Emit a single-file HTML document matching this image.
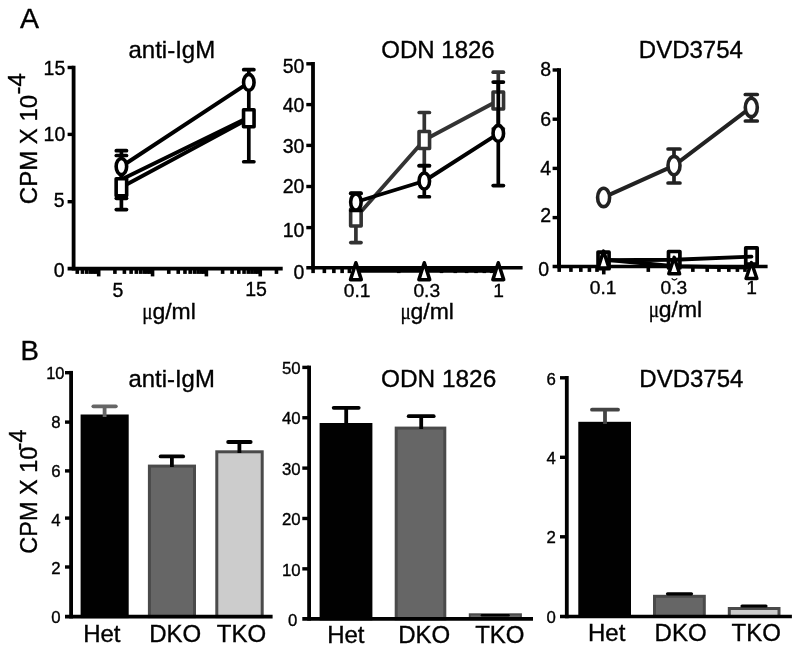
<!DOCTYPE html>
<html><head><meta charset="utf-8"><title>Figure</title>
<style>
html,body{margin:0;padding:0;background:#fff;}
body{width:800px;height:652px;overflow:hidden;font-family:"Liberation Sans",sans-serif;}
svg{display:block;will-change:transform;opacity:0.999;}
svg text{font-family:"Liberation Sans",sans-serif;fill:#000;stroke:#000;stroke-width:0.35px;}
</style></head><body>
<svg width="800" height="652" viewBox="0 0 800 652">
<rect width="800" height="652" fill="#fff"/>
<text x="19.90" y="28.10" font-size="28.5" text-anchor="start" >A</text>
<text x="20.40" y="359.50" font-size="27.6" text-anchor="start" >B</text>
<line x1="73.60" y1="65.70" x2="73.60" y2="270.40" stroke="#000" stroke-width="3.8" stroke-linecap="butt"/>
<line x1="67.60" y1="268.60" x2="282.70" y2="268.60" stroke="#000" stroke-width="3.6" stroke-linecap="butt"/>
<line x1="67.60" y1="67.50" x2="73.60" y2="67.50" stroke="#000" stroke-width="3.4" stroke-linecap="butt"/>
<line x1="67.60" y1="134.40" x2="73.60" y2="134.40" stroke="#000" stroke-width="3.4" stroke-linecap="butt"/>
<line x1="67.60" y1="201.70" x2="73.60" y2="201.70" stroke="#000" stroke-width="3.4" stroke-linecap="butt"/>
<text x="65.30" y="74.50" font-size="19.5" text-anchor="end" >15</text>
<text x="65.30" y="141.20" font-size="19.5" text-anchor="end" >10</text>
<text x="64.60" y="207.10" font-size="19.5" text-anchor="end" >5</text>
<text x="64.60" y="276.70" font-size="19.5" text-anchor="end" >0</text>
<line x1="77.27" y1="268.60" x2="77.27" y2="273.90" stroke="#000" stroke-width="3.6" stroke-linecap="butt"/>
<line x1="82.49" y1="268.60" x2="82.49" y2="273.90" stroke="#000" stroke-width="3.6" stroke-linecap="butt"/>
<line x1="86.75" y1="268.60" x2="86.75" y2="273.90" stroke="#000" stroke-width="3.6" stroke-linecap="butt"/>
<line x1="90.36" y1="268.60" x2="90.36" y2="273.90" stroke="#000" stroke-width="3.6" stroke-linecap="butt"/>
<line x1="93.48" y1="268.60" x2="93.48" y2="273.90" stroke="#000" stroke-width="3.6" stroke-linecap="butt"/>
<line x1="96.24" y1="268.60" x2="96.24" y2="273.90" stroke="#000" stroke-width="3.6" stroke-linecap="butt"/>
<line x1="98.70" y1="268.60" x2="98.70" y2="276.40" stroke="#000" stroke-width="3.6" stroke-linecap="butt"/>
<line x1="114.91" y1="268.60" x2="114.91" y2="273.90" stroke="#000" stroke-width="3.6" stroke-linecap="butt"/>
<line x1="124.39" y1="268.60" x2="124.39" y2="273.90" stroke="#000" stroke-width="3.6" stroke-linecap="butt"/>
<line x1="131.12" y1="268.60" x2="131.12" y2="273.90" stroke="#000" stroke-width="3.6" stroke-linecap="butt"/>
<line x1="136.34" y1="268.60" x2="136.34" y2="273.90" stroke="#000" stroke-width="3.6" stroke-linecap="butt"/>
<line x1="140.60" y1="268.60" x2="140.60" y2="273.90" stroke="#000" stroke-width="3.6" stroke-linecap="butt"/>
<line x1="144.21" y1="268.60" x2="144.21" y2="273.90" stroke="#000" stroke-width="3.6" stroke-linecap="butt"/>
<line x1="147.33" y1="268.60" x2="147.33" y2="273.90" stroke="#000" stroke-width="3.6" stroke-linecap="butt"/>
<line x1="150.09" y1="268.60" x2="150.09" y2="273.90" stroke="#000" stroke-width="3.6" stroke-linecap="butt"/>
<line x1="152.55" y1="268.60" x2="152.55" y2="276.40" stroke="#000" stroke-width="3.6" stroke-linecap="butt"/>
<line x1="168.76" y1="268.60" x2="168.76" y2="273.90" stroke="#000" stroke-width="3.6" stroke-linecap="butt"/>
<line x1="178.24" y1="268.60" x2="178.24" y2="273.90" stroke="#000" stroke-width="3.6" stroke-linecap="butt"/>
<line x1="184.97" y1="268.60" x2="184.97" y2="273.90" stroke="#000" stroke-width="3.6" stroke-linecap="butt"/>
<line x1="190.19" y1="268.60" x2="190.19" y2="273.90" stroke="#000" stroke-width="3.6" stroke-linecap="butt"/>
<line x1="194.45" y1="268.60" x2="194.45" y2="273.90" stroke="#000" stroke-width="3.6" stroke-linecap="butt"/>
<line x1="198.06" y1="268.60" x2="198.06" y2="273.90" stroke="#000" stroke-width="3.6" stroke-linecap="butt"/>
<line x1="201.18" y1="268.60" x2="201.18" y2="273.90" stroke="#000" stroke-width="3.6" stroke-linecap="butt"/>
<line x1="203.94" y1="268.60" x2="203.94" y2="273.90" stroke="#000" stroke-width="3.6" stroke-linecap="butt"/>
<line x1="206.40" y1="268.60" x2="206.40" y2="276.40" stroke="#000" stroke-width="3.6" stroke-linecap="butt"/>
<line x1="222.61" y1="268.60" x2="222.61" y2="273.90" stroke="#000" stroke-width="3.6" stroke-linecap="butt"/>
<line x1="232.09" y1="268.60" x2="232.09" y2="273.90" stroke="#000" stroke-width="3.6" stroke-linecap="butt"/>
<line x1="238.82" y1="268.60" x2="238.82" y2="273.90" stroke="#000" stroke-width="3.6" stroke-linecap="butt"/>
<line x1="244.04" y1="268.60" x2="244.04" y2="273.90" stroke="#000" stroke-width="3.6" stroke-linecap="butt"/>
<line x1="248.30" y1="268.60" x2="248.30" y2="273.90" stroke="#000" stroke-width="3.6" stroke-linecap="butt"/>
<line x1="251.91" y1="268.60" x2="251.91" y2="273.90" stroke="#000" stroke-width="3.6" stroke-linecap="butt"/>
<line x1="255.03" y1="268.60" x2="255.03" y2="273.90" stroke="#000" stroke-width="3.6" stroke-linecap="butt"/>
<line x1="257.79" y1="268.60" x2="257.79" y2="273.90" stroke="#000" stroke-width="3.6" stroke-linecap="butt"/>
<line x1="260.25" y1="268.60" x2="260.25" y2="276.40" stroke="#000" stroke-width="3.6" stroke-linecap="butt"/>
<line x1="276.46" y1="268.60" x2="276.46" y2="273.90" stroke="#000" stroke-width="3.6" stroke-linecap="butt"/>
<text x="118.00" y="297.20" font-size="19.5" text-anchor="middle" >5</text>
<text x="256.00" y="295.70" font-size="19.5" text-anchor="middle" >15</text>
<text x="128.50" y="57.50" font-size="24" text-anchor="start" >anti-IgM</text>
<g transform="translate(36.6,204.2) rotate(-90)">
<text x="0.00" y="0.00" font-size="24" text-anchor="start" >CPM X 10</text>
<text x="109.70" y="-11.70" font-size="24" text-anchor="start" >-4</text>
</g>
<g transform="translate(195.80,319.20)"><text transform="scale(1.035,1)" font-size="22.2" text-anchor="end">g/ml</text><text transform="translate(-43.2,0) scale(0.8,1)" font-family="Liberation Serif, serif" style="font-family:'Liberation Serif',serif" font-size="24" text-anchor="end">μ</text></g>
<line x1="121.40" y1="155.50" x2="121.40" y2="209.60" stroke="#000" stroke-width="3.7" stroke-linecap="butt"/>
<line x1="116.30" y1="155.50" x2="126.50" y2="155.50" stroke="#000" stroke-width="3.7" stroke-linecap="round"/>
<line x1="116.30" y1="209.60" x2="126.50" y2="209.60" stroke="#000" stroke-width="3.7" stroke-linecap="round"/>
<line x1="248.80" y1="69.70" x2="248.80" y2="161.75" stroke="#000" stroke-width="3.7" stroke-linecap="butt"/>
<line x1="243.70" y1="69.70" x2="253.90" y2="69.70" stroke="#000" stroke-width="3.7" stroke-linecap="round"/>
<line x1="243.70" y1="161.75" x2="253.90" y2="161.75" stroke="#000" stroke-width="3.7" stroke-linecap="round"/>
<line x1="121.40" y1="150.70" x2="121.40" y2="198.30" stroke="#000" stroke-width="3.7" stroke-linecap="butt"/>
<line x1="116.30" y1="150.70" x2="126.50" y2="150.70" stroke="#000" stroke-width="3.7" stroke-linecap="round"/>
<line x1="116.30" y1="198.30" x2="126.50" y2="198.30" stroke="#000" stroke-width="3.7" stroke-linecap="round"/>
<polyline points="121.40,187.20 248.80,118.60" fill="none" stroke="#000" stroke-width="3.9" stroke-linejoin="round" stroke-linecap="round"/>
<polyline points="121.40,179.60 248.80,117.20" fill="none" stroke="#000" stroke-width="3.9" stroke-linejoin="round" stroke-linecap="round"/>
<polyline points="121.40,166.50 248.80,82.60" fill="none" stroke="#000" stroke-width="3.9" stroke-linejoin="round" stroke-linecap="round"/>
<rect x="116.15" y="178.70" width="10.5" height="17.0" fill="#fff" stroke="#000" stroke-width="3.6" stroke-linejoin="round"/>
<rect x="243.55" y="109.70" width="10.5" height="17.0" fill="#fff" stroke="#000" stroke-width="3.6" stroke-linejoin="round"/>
<ellipse cx="121.40" cy="166.50" rx="5.25" ry="8.0" fill="#fff" stroke="#000" stroke-width="3.6"/>
<ellipse cx="248.80" cy="82.40" rx="5.25" ry="8.0" fill="#fff" stroke="#000" stroke-width="3.6"/>
<line x1="313.00" y1="62.00" x2="313.00" y2="269.50" stroke="#000" stroke-width="3.8" stroke-linecap="butt"/>
<line x1="306.30" y1="267.80" x2="522.60" y2="267.80" stroke="#000" stroke-width="3.5" stroke-linecap="butt"/>
<line x1="306.30" y1="63.80" x2="313.00" y2="63.80" stroke="#000" stroke-width="3.4" stroke-linecap="butt"/>
<line x1="306.30" y1="104.60" x2="313.00" y2="104.60" stroke="#000" stroke-width="3.4" stroke-linecap="butt"/>
<line x1="306.30" y1="145.40" x2="313.00" y2="145.40" stroke="#000" stroke-width="3.4" stroke-linecap="butt"/>
<line x1="306.30" y1="186.50" x2="313.00" y2="186.50" stroke="#000" stroke-width="3.4" stroke-linecap="butt"/>
<line x1="306.30" y1="227.60" x2="313.00" y2="227.60" stroke="#000" stroke-width="3.4" stroke-linecap="butt"/>
<text x="304.40" y="72.90" font-size="19.5" text-anchor="end" >50</text>
<text x="304.40" y="111.90" font-size="19.5" text-anchor="end" >40</text>
<text x="304.40" y="152.70" font-size="19.5" text-anchor="end" >30</text>
<text x="304.40" y="192.60" font-size="19.5" text-anchor="end" >20</text>
<text x="304.40" y="237.00" font-size="19.5" text-anchor="end" >10</text>
<text x="304.40" y="278.70" font-size="19.5" text-anchor="end" >0</text>
<line x1="313.09" y1="267.80" x2="313.09" y2="273.10" stroke="#000" stroke-width="3.6" stroke-linecap="butt"/>
<line x1="324.35" y1="267.80" x2="324.35" y2="273.10" stroke="#000" stroke-width="3.6" stroke-linecap="butt"/>
<line x1="333.87" y1="267.80" x2="333.87" y2="273.10" stroke="#000" stroke-width="3.6" stroke-linecap="butt"/>
<line x1="342.12" y1="267.80" x2="342.12" y2="273.10" stroke="#000" stroke-width="3.6" stroke-linecap="butt"/>
<line x1="349.39" y1="267.80" x2="349.39" y2="273.10" stroke="#000" stroke-width="3.6" stroke-linecap="butt"/>
<line x1="355.90" y1="267.80" x2="355.90" y2="275.60" stroke="#000" stroke-width="3.6" stroke-linecap="butt"/>
<line x1="398.71" y1="267.80" x2="398.71" y2="273.10" stroke="#000" stroke-width="3.6" stroke-linecap="butt"/>
<line x1="423.75" y1="267.80" x2="423.75" y2="273.10" stroke="#000" stroke-width="3.6" stroke-linecap="butt"/>
<line x1="441.51" y1="267.80" x2="441.51" y2="273.10" stroke="#000" stroke-width="3.6" stroke-linecap="butt"/>
<line x1="455.29" y1="267.80" x2="455.29" y2="273.10" stroke="#000" stroke-width="3.6" stroke-linecap="butt"/>
<line x1="466.55" y1="267.80" x2="466.55" y2="273.10" stroke="#000" stroke-width="3.6" stroke-linecap="butt"/>
<line x1="476.07" y1="267.80" x2="476.07" y2="273.10" stroke="#000" stroke-width="3.6" stroke-linecap="butt"/>
<line x1="484.32" y1="267.80" x2="484.32" y2="273.10" stroke="#000" stroke-width="3.6" stroke-linecap="butt"/>
<line x1="491.59" y1="267.80" x2="491.59" y2="273.10" stroke="#000" stroke-width="3.6" stroke-linecap="butt"/>
<line x1="498.10" y1="267.80" x2="498.10" y2="275.60" stroke="#000" stroke-width="3.6" stroke-linecap="butt"/>
<text x="357.20" y="297.00" font-size="19.2" text-anchor="middle" >0.1</text>
<text x="426.80" y="297.00" font-size="19.2" text-anchor="middle" >0.3</text>
<text x="498.70" y="297.00" font-size="19.2" text-anchor="middle" >1</text>
<g transform="translate(453.90,318.80)"><text transform="scale(1.035,1)" font-size="22.2" text-anchor="end">g/ml</text><text transform="translate(-43.2,0) scale(0.8,1)" font-family="Liberation Serif, serif" style="font-family:'Liberation Serif',serif" font-size="24" text-anchor="end">μ</text></g>
<text x="381.30" y="57.50" font-size="24" text-anchor="start" >ODN 1826</text>
<line x1="355.90" y1="193.50" x2="355.90" y2="242.60" stroke="#333" stroke-width="3.7" stroke-linecap="butt"/>
<line x1="350.80" y1="193.50" x2="361.00" y2="193.50" stroke="#333" stroke-width="3.7" stroke-linecap="round"/>
<line x1="350.80" y1="242.60" x2="361.00" y2="242.60" stroke="#333" stroke-width="3.7" stroke-linecap="round"/>
<line x1="424.30" y1="112.50" x2="424.30" y2="166.00" stroke="#333" stroke-width="3.7" stroke-linecap="butt"/>
<line x1="419.20" y1="112.50" x2="429.40" y2="112.50" stroke="#333" stroke-width="3.7" stroke-linecap="round"/>
<line x1="419.20" y1="166.00" x2="429.40" y2="166.00" stroke="#333" stroke-width="3.7" stroke-linecap="round"/>
<line x1="498.30" y1="72.20" x2="498.30" y2="128.80" stroke="#333" stroke-width="3.7" stroke-linecap="butt"/>
<line x1="493.20" y1="72.20" x2="503.40" y2="72.20" stroke="#333" stroke-width="3.7" stroke-linecap="round"/>
<line x1="493.20" y1="128.80" x2="503.40" y2="128.80" stroke="#333" stroke-width="3.7" stroke-linecap="round"/>
<polyline points="355.90,217.50 424.30,140.00 498.30,100.50" fill="none" stroke="#333" stroke-width="3.9" stroke-linejoin="round" stroke-linecap="round"/>
<rect x="350.65" y="209.00" width="10.5" height="17.0" fill="#fff" stroke="#333" stroke-width="3.6" stroke-linejoin="round"/>
<rect x="419.05" y="131.50" width="10.5" height="17.0" fill="#fff" stroke="#333" stroke-width="3.6" stroke-linejoin="round"/>
<rect x="493.05" y="92.00" width="10.5" height="17.0" fill="#fff" stroke="#333" stroke-width="3.6" stroke-linejoin="round"/>
<line x1="355.90" y1="193.20" x2="355.90" y2="210.50" stroke="#000" stroke-width="3.7" stroke-linecap="butt"/>
<line x1="350.80" y1="193.20" x2="361.00" y2="193.20" stroke="#000" stroke-width="3.7" stroke-linecap="round"/>
<line x1="350.80" y1="210.50" x2="361.00" y2="210.50" stroke="#000" stroke-width="3.7" stroke-linecap="round"/>
<line x1="424.30" y1="165.50" x2="424.30" y2="196.75" stroke="#000" stroke-width="3.7" stroke-linecap="butt"/>
<line x1="419.20" y1="165.50" x2="429.40" y2="165.50" stroke="#000" stroke-width="3.7" stroke-linecap="round"/>
<line x1="419.20" y1="196.75" x2="429.40" y2="196.75" stroke="#000" stroke-width="3.7" stroke-linecap="round"/>
<line x1="498.30" y1="82.10" x2="498.30" y2="185.60" stroke="#000" stroke-width="3.7" stroke-linecap="butt"/>
<line x1="493.20" y1="82.10" x2="503.40" y2="82.10" stroke="#000" stroke-width="3.7" stroke-linecap="round"/>
<line x1="493.20" y1="185.60" x2="503.40" y2="185.60" stroke="#000" stroke-width="3.7" stroke-linecap="round"/>
<polyline points="355.90,202.00 424.30,181.00 498.30,133.60" fill="none" stroke="#000" stroke-width="3.9" stroke-linejoin="round" stroke-linecap="round"/>
<ellipse cx="355.90" cy="202.00" rx="5.25" ry="8.0" fill="#fff" stroke="#000" stroke-width="3.6"/>
<ellipse cx="424.30" cy="181.00" rx="5.25" ry="8.0" fill="#fff" stroke="#000" stroke-width="3.6"/>
<ellipse cx="498.30" cy="133.40" rx="5.25" ry="8.0" fill="#fff" stroke="#000" stroke-width="3.6"/>
<polyline points="355.90,270.75 424.30,270.75 498.30,270.75" fill="none" stroke="#000" stroke-width="3.9" stroke-linejoin="round" stroke-linecap="round"/>
<path d="M355.90 262.75 L361.30 279.65 L350.50 279.65 Z" fill="#fff" stroke="#000" stroke-width="3.5" stroke-linejoin="round"/>
<path d="M424.30 262.75 L429.70 279.65 L418.90 279.65 Z" fill="#fff" stroke="#000" stroke-width="3.5" stroke-linejoin="round"/>
<path d="M498.30 262.75 L503.70 279.65 L492.90 279.65 Z" fill="#fff" stroke="#000" stroke-width="3.5" stroke-linejoin="round"/>
<line x1="559.00" y1="68.20" x2="559.00" y2="268.30" stroke="#000" stroke-width="4" stroke-linecap="butt"/>
<line x1="552.60" y1="266.60" x2="767.60" y2="266.60" stroke="#000" stroke-width="3.5" stroke-linecap="butt"/>
<line x1="552.60" y1="70.00" x2="559.00" y2="70.00" stroke="#000" stroke-width="3.4" stroke-linecap="butt"/>
<line x1="552.60" y1="119.20" x2="559.00" y2="119.20" stroke="#000" stroke-width="3.4" stroke-linecap="butt"/>
<line x1="552.60" y1="168.40" x2="559.00" y2="168.40" stroke="#000" stroke-width="3.4" stroke-linecap="butt"/>
<line x1="552.60" y1="217.60" x2="559.00" y2="217.60" stroke="#000" stroke-width="3.4" stroke-linecap="butt"/>
<text x="551.00" y="75.90" font-size="19.5" text-anchor="end" >8</text>
<text x="551.00" y="126.20" font-size="19.5" text-anchor="end" >6</text>
<text x="551.00" y="174.50" font-size="19.5" text-anchor="end" >4</text>
<text x="551.00" y="222.30" font-size="19.5" text-anchor="end" >2</text>
<text x="549.20" y="275.60" font-size="19.5" text-anchor="end" >0</text>
<line x1="559.20" y1="266.60" x2="559.20" y2="271.90" stroke="#000" stroke-width="3.6" stroke-linecap="butt"/>
<line x1="570.92" y1="266.60" x2="570.92" y2="271.90" stroke="#000" stroke-width="3.6" stroke-linecap="butt"/>
<line x1="580.82" y1="266.60" x2="580.82" y2="271.90" stroke="#000" stroke-width="3.6" stroke-linecap="butt"/>
<line x1="589.41" y1="266.60" x2="589.41" y2="271.90" stroke="#000" stroke-width="3.6" stroke-linecap="butt"/>
<line x1="596.98" y1="266.60" x2="596.98" y2="271.90" stroke="#000" stroke-width="3.6" stroke-linecap="butt"/>
<line x1="603.75" y1="266.60" x2="603.75" y2="274.40" stroke="#000" stroke-width="3.6" stroke-linecap="butt"/>
<line x1="648.30" y1="266.60" x2="648.30" y2="271.90" stroke="#000" stroke-width="3.6" stroke-linecap="butt"/>
<line x1="674.36" y1="266.60" x2="674.36" y2="271.90" stroke="#000" stroke-width="3.6" stroke-linecap="butt"/>
<line x1="692.85" y1="266.60" x2="692.85" y2="271.90" stroke="#000" stroke-width="3.6" stroke-linecap="butt"/>
<line x1="707.20" y1="266.60" x2="707.20" y2="271.90" stroke="#000" stroke-width="3.6" stroke-linecap="butt"/>
<line x1="718.92" y1="266.60" x2="718.92" y2="271.90" stroke="#000" stroke-width="3.6" stroke-linecap="butt"/>
<line x1="728.82" y1="266.60" x2="728.82" y2="271.90" stroke="#000" stroke-width="3.6" stroke-linecap="butt"/>
<line x1="737.41" y1="266.60" x2="737.41" y2="271.90" stroke="#000" stroke-width="3.6" stroke-linecap="butt"/>
<line x1="744.98" y1="266.60" x2="744.98" y2="271.90" stroke="#000" stroke-width="3.6" stroke-linecap="butt"/>
<line x1="751.75" y1="266.60" x2="751.75" y2="274.40" stroke="#000" stroke-width="3.6" stroke-linecap="butt"/>
<text x="603.20" y="294.20" font-size="19.2" text-anchor="middle" >0.1</text>
<text x="673.80" y="294.20" font-size="19.2" text-anchor="middle" >0.3</text>
<text x="751.50" y="294.20" font-size="19.2" text-anchor="middle" >1</text>
<g transform="translate(702.20,317.40)"><text transform="scale(1.035,1)" font-size="22.2" text-anchor="end">g/ml</text><text transform="translate(-43.2,0) scale(0.8,1)" font-family="Liberation Serif, serif" style="font-family:'Liberation Serif',serif" font-size="24" text-anchor="end">μ</text></g>
<text x="638.80" y="57.50" font-size="24" text-anchor="start" >DVD3754</text>
<line x1="674.00" y1="149.00" x2="674.00" y2="183.00" stroke="#222" stroke-width="3.7" stroke-linecap="butt"/>
<line x1="668.05" y1="149.00" x2="679.95" y2="149.00" stroke="#222" stroke-width="3.7" stroke-linecap="round"/>
<line x1="668.05" y1="183.00" x2="679.95" y2="183.00" stroke="#222" stroke-width="3.7" stroke-linecap="round"/>
<line x1="751.30" y1="94.50" x2="751.30" y2="121.00" stroke="#222" stroke-width="3.7" stroke-linecap="butt"/>
<line x1="745.35" y1="94.50" x2="757.25" y2="94.50" stroke="#222" stroke-width="3.7" stroke-linecap="round"/>
<line x1="745.35" y1="121.00" x2="757.25" y2="121.00" stroke="#222" stroke-width="3.7" stroke-linecap="round"/>
<polyline points="603.60,197.40 674.00,165.60 751.30,107.10" fill="none" stroke="#222" stroke-width="3.9" stroke-linejoin="round" stroke-linecap="round"/>
<ellipse cx="603.60" cy="197.40" rx="6.0" ry="9.2" fill="#fff" stroke="#222" stroke-width="3.6"/>
<ellipse cx="674.00" cy="165.60" rx="6.0" ry="9.2" fill="#fff" stroke="#222" stroke-width="3.6"/>
<ellipse cx="751.30" cy="107.40" rx="6.0" ry="9.2" fill="#fff" stroke="#222" stroke-width="3.6"/>
<polyline points="603.55,260.20 674.20,259.70 751.45,256.60" fill="none" stroke="#000" stroke-width="3.9" stroke-linejoin="round" stroke-linecap="round"/>
<rect x="598.05" y="252.10" width="11" height="16.6" fill="none" stroke="#000" stroke-width="3.7" stroke-linejoin="round"/>
<rect x="668.50" y="251.50" width="11.4" height="16.4" fill="none" stroke="#000" stroke-width="3.7" stroke-linejoin="round"/>
<rect x="745.75" y="247.80" width="11.4" height="16.4" fill="none" stroke="#000" stroke-width="3.7" stroke-linejoin="round"/>
<polyline points="603.55,259.50 674.20,266.20 751.45,267.60" fill="none" stroke="#000" stroke-width="3.9" stroke-linejoin="round" stroke-linecap="round"/>
<path d="M603.55 251.05 L608.95 267.95 L598.15 267.95 Z" fill="#fff" stroke="#000" stroke-width="3.5" stroke-linejoin="round"/>
<path d="M674.20 257.35 L679.60 273.75 L668.80 273.75 Z" fill="#fff" stroke="#000" stroke-width="3.5" stroke-linejoin="round"/>
<path d="M751.45 262.55 L756.85 278.45 L746.05 278.45 Z" fill="#fff" stroke="#000" stroke-width="3.5" stroke-linejoin="round"/>
<path d="M671.7 278.4 Q674.4 281.6 677.2 278.4" fill="none" stroke="#111" stroke-width="1.3"/>
<rect x="82.10" y="416.00" width="45.10" height="200.60" fill="#000" stroke="#000" stroke-width="3"/>
<rect x="149.40" y="466.10" width="45.10" height="150.50" fill="#666" stroke="#4a4a4a" stroke-width="3"/>
<rect x="216.80" y="451.80" width="45.40" height="164.80" fill="#ccc" stroke="#4a4a4a" stroke-width="3"/>
<line x1="104.60" y1="406.30" x2="104.60" y2="417.00" stroke="#666" stroke-width="3.8" stroke-linecap="butt"/>
<line x1="93.35" y1="406.30" x2="115.85" y2="406.30" stroke="#666" stroke-width="3.8" stroke-linecap="round"/>
<line x1="171.90" y1="456.40" x2="171.90" y2="467.00" stroke="#000" stroke-width="3.8" stroke-linecap="butt"/>
<line x1="160.65" y1="456.40" x2="183.15" y2="456.40" stroke="#000" stroke-width="3.8" stroke-linecap="round"/>
<line x1="239.40" y1="442.00" x2="239.40" y2="453.00" stroke="#000" stroke-width="3.8" stroke-linecap="butt"/>
<line x1="228.15" y1="442.00" x2="250.65" y2="442.00" stroke="#000" stroke-width="3.8" stroke-linecap="round"/>
<line x1="71.10" y1="370.90" x2="71.10" y2="618.40" stroke="#000" stroke-width="3.8" stroke-linecap="butt"/>
<line x1="65.00" y1="616.60" x2="272.60" y2="616.60" stroke="#000" stroke-width="3.7" stroke-linecap="butt"/>
<line x1="65.00" y1="372.70" x2="71.10" y2="372.70" stroke="#000" stroke-width="3.4" stroke-linecap="butt"/>
<line x1="65.00" y1="422.10" x2="71.10" y2="422.10" stroke="#000" stroke-width="3.4" stroke-linecap="butt"/>
<line x1="65.00" y1="470.90" x2="71.10" y2="470.90" stroke="#000" stroke-width="3.4" stroke-linecap="butt"/>
<line x1="65.00" y1="518.10" x2="71.10" y2="518.10" stroke="#000" stroke-width="3.4" stroke-linecap="butt"/>
<line x1="65.00" y1="567.00" x2="71.10" y2="567.00" stroke="#000" stroke-width="3.4" stroke-linecap="butt"/>
<text x="64.50" y="378.80" font-size="16.5" text-anchor="end" >10</text>
<text x="60.70" y="428.20" font-size="16.8" text-anchor="end" >8</text>
<text x="60.70" y="477.40" font-size="16.8" text-anchor="end" >6</text>
<text x="60.70" y="525.50" font-size="16.8" text-anchor="end" >4</text>
<text x="60.70" y="573.90" font-size="16.8" text-anchor="end" >2</text>
<text x="60.70" y="623.20" font-size="16.8" text-anchor="end" >0</text>
<text x="128.50" y="387.10" font-size="23.9" text-anchor="start" >anti-IgM</text>
<text x="83.20" y="641.50" font-size="24" text-anchor="start" >Het</text>
<text x="149.20" y="641.50" font-size="24" text-anchor="start" >DKO</text>
<text x="216.80" y="641.50" font-size="24" text-anchor="start" >TKO</text>
<g transform="translate(36.5,553.7) rotate(-90)">
<text x="0.00" y="0.00" font-size="23.5" text-anchor="start" >CPM X 10</text>
<text x="103.30" y="-10.50" font-size="23.5" text-anchor="start" >-4</text>
</g>
<rect x="321.10" y="424.50" width="49.80" height="194.30" fill="#000" stroke="#000" stroke-width="3"/>
<rect x="396.20" y="428.10" width="48.60" height="190.70" fill="#666" stroke="#4a4a4a" stroke-width="3"/>
<rect x="469.80" y="614.30" width="51.10" height="4.50" fill="#666" stroke="#4a4a4a" stroke-width="2"/>
<line x1="346.20" y1="407.80" x2="346.20" y2="425.00" stroke="#000" stroke-width="3.8" stroke-linecap="butt"/>
<line x1="333.70" y1="407.80" x2="358.70" y2="407.80" stroke="#000" stroke-width="3.8" stroke-linecap="round"/>
<line x1="421.20" y1="416.20" x2="421.20" y2="429.00" stroke="#000" stroke-width="3.8" stroke-linecap="butt"/>
<line x1="408.70" y1="416.20" x2="433.70" y2="416.20" stroke="#000" stroke-width="3.8" stroke-linecap="round"/>
<line x1="482.00" y1="615.20" x2="508.50" y2="615.20" stroke="#000" stroke-width="2.6" stroke-linecap="round"/>
<line x1="309.10" y1="365.60" x2="309.10" y2="620.60" stroke="#000" stroke-width="3.8" stroke-linecap="butt"/>
<line x1="302.30" y1="618.80" x2="533.00" y2="618.80" stroke="#000" stroke-width="3.7" stroke-linecap="butt"/>
<line x1="302.30" y1="367.40" x2="309.10" y2="367.40" stroke="#000" stroke-width="3.4" stroke-linecap="butt"/>
<line x1="302.30" y1="417.76" x2="309.10" y2="417.76" stroke="#000" stroke-width="3.4" stroke-linecap="butt"/>
<line x1="302.30" y1="468.12" x2="309.10" y2="468.12" stroke="#000" stroke-width="3.4" stroke-linecap="butt"/>
<line x1="302.30" y1="518.48" x2="309.10" y2="518.48" stroke="#000" stroke-width="3.4" stroke-linecap="butt"/>
<line x1="302.30" y1="568.84" x2="309.10" y2="568.84" stroke="#000" stroke-width="3.4" stroke-linecap="butt"/>
<text x="300.70" y="374.30" font-size="16.8" text-anchor="end" >50</text>
<text x="300.70" y="424.40" font-size="16.8" text-anchor="end" >40</text>
<text x="300.70" y="475.00" font-size="16.8" text-anchor="end" >30</text>
<text x="300.70" y="525.40" font-size="16.8" text-anchor="end" >20</text>
<text x="300.70" y="575.70" font-size="16.8" text-anchor="end" >10</text>
<text x="297.40" y="626.10" font-size="16.8" text-anchor="end" >0</text>
<text x="381.00" y="387.00" font-size="24.4" text-anchor="start" >ODN 1826</text>
<text x="327.20" y="642.80" font-size="24" text-anchor="start" >Het</text>
<text x="398.20" y="642.80" font-size="24" text-anchor="start" >DKO</text>
<text x="475.20" y="642.80" font-size="24" text-anchor="start" >TKO</text>
<rect x="579.80" y="423.30" width="49.70" height="193.20" fill="#000" stroke="#000" stroke-width="3"/>
<rect x="654.50" y="596.30" width="49.80" height="20.20" fill="#666" stroke="#4a4a4a" stroke-width="3"/>
<rect x="729.30" y="608.50" width="49.70" height="8.00" fill="#ccc" stroke="#4a4a4a" stroke-width="3"/>
<line x1="605.00" y1="409.70" x2="605.00" y2="424.00" stroke="#444" stroke-width="3.8" stroke-linecap="butt"/>
<line x1="592.00" y1="409.70" x2="618.00" y2="409.70" stroke="#444" stroke-width="3.8" stroke-linecap="round"/>
<line x1="667.50" y1="593.80" x2="691.50" y2="593.80" stroke="#000" stroke-width="3.2" stroke-linecap="round"/>
<line x1="742.00" y1="606.00" x2="766.00" y2="606.00" stroke="#000" stroke-width="3.2" stroke-linecap="round"/>
<line x1="566.80" y1="376.00" x2="566.80" y2="618.30" stroke="#000" stroke-width="3.8" stroke-linecap="butt"/>
<line x1="560.00" y1="616.50" x2="791.90" y2="616.50" stroke="#000" stroke-width="3.7" stroke-linecap="butt"/>
<line x1="560.00" y1="377.80" x2="566.80" y2="377.80" stroke="#000" stroke-width="3.4" stroke-linecap="butt"/>
<line x1="560.00" y1="457.30" x2="566.80" y2="457.30" stroke="#000" stroke-width="3.4" stroke-linecap="butt"/>
<line x1="560.00" y1="536.80" x2="566.80" y2="536.80" stroke="#000" stroke-width="3.4" stroke-linecap="butt"/>
<text x="555.80" y="384.50" font-size="16.8" text-anchor="end" >6</text>
<text x="555.80" y="463.80" font-size="16.8" text-anchor="end" >4</text>
<text x="555.80" y="542.90" font-size="16.8" text-anchor="end" >2</text>
<text x="555.80" y="622.60" font-size="16.8" text-anchor="end" >0</text>
<text x="639.30" y="387.00" font-size="24" text-anchor="start" >DVD3754</text>
<text x="588.00" y="640.80" font-size="24" text-anchor="start" >Het</text>
<text x="654.60" y="640.80" font-size="24" text-anchor="start" >DKO</text>
<text x="731.60" y="640.80" font-size="24" text-anchor="start" >TKO</text>
</svg>
</body></html>
